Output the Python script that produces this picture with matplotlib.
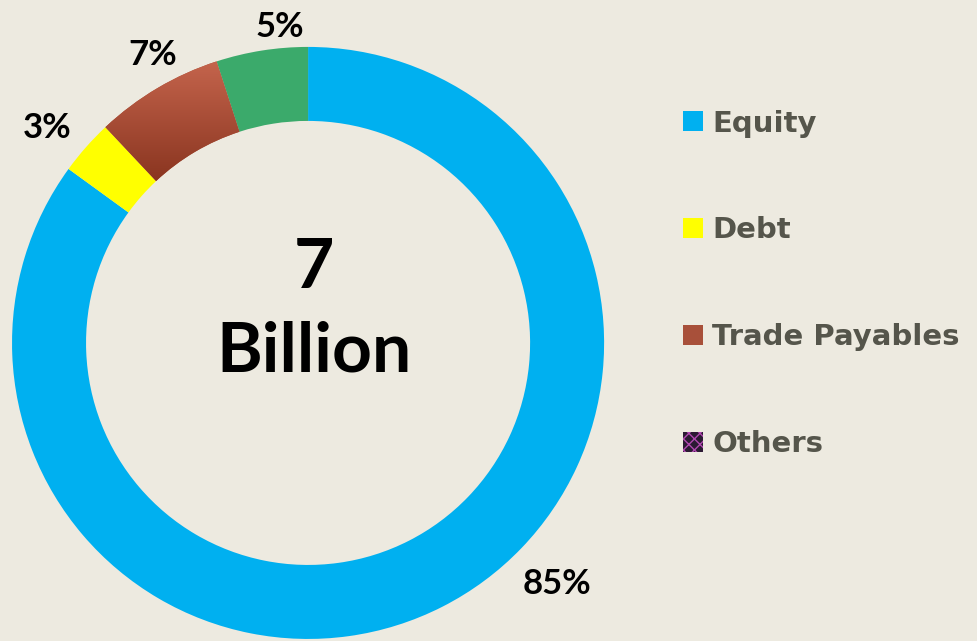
import matplotlib
matplotlib.use("Agg")
import matplotlib.pyplot as plt
import matplotlib.patches as mpatches
from matplotlib.colors import LinearSegmentedColormap
import numpy as np

# data
labels = ["Equity", "Debt", "Trade Payables", "Others"]
shares = [85, 3, 7, 5]
colors = ["#00B0F0", "#FFFF00", "#A8503A", "#3BAA6B"]
center_value = "7"
center_unit = "Billion"

# where Excel parked each percent label: (angle in degrees, radius)
label_spots = [(-44, 1.17), (140.5, 1.14), (118.3, 1.105), (95.1, 1.07)]

plt.rcParams['font.family'] = ['Lato', 'DejaVu Sans']
BG = "#EDEAE0"

fig = plt.figure(figsize=(9.78, 6.41), dpi=100, facecolor=BG)
ax = fig.add_axes([0.0123, 0.0032, 0.6054, 0.9236])
ax.set_facecolor(BG)

wedges, texts, autotexts = ax.pie(
    shares, colors=colors, startangle=90, counterclock=False, radius=1.0,
    wedgeprops=dict(width=0.25, edgecolor='none'),
    autopct='%d%%', pctdistance=1.12,
    textprops=dict(fontsize=25, fontweight='bold', color='black'))

for t, (a, r) in zip(autotexts, label_spots):
    a = np.deg2rad(a)
    t.set_position((r * np.cos(a), r * np.sin(a)))

ax.set_xlim(-1, 1)
ax.set_ylim(-1, 1)
ax.set_aspect('equal')
ax.axis('off')

# the trade payables slice has a vertical brown gradient
tp = wedges[2]
bb = tp.get_path().get_extents()
grad_cmap = LinearSegmentedColormap.from_list("tp", ["#8A3520", "#C4644C"])
img = ax.imshow(np.linspace(0, 1, 64).reshape(-1, 1), cmap=grad_cmap,
                origin='lower', aspect='auto',
                extent=(bb.x0, bb.x1, bb.y0, bb.y1), zorder=tp.get_zorder() + 0.1)
img.set_clip_path(tp)
ax.set_xlim(-1, 1)
ax.set_ylim(-1, 1)

ax.text(0.02, 0.25, center_value, ha='center', va='center',
        fontsize=50, fontweight='bold', color='black')
ax.text(0.02, -0.03, center_unit, ha='center', va='center',
        fontsize=50, fontweight='bold', color='black')

# legend: "Others" uses a patterned swatch in the original
handles = [mpatches.Patch(facecolor=w.get_facecolor()) for w in wedges[:3]]
handles[2] = mpatches.Patch(facecolor="#A8503A")
handles.append(mpatches.Patch(facecolor='#2B1A33', edgecolor='#B048B0',
                              hatch='xxx', linewidth=0))
leg = fig.legend(handles, labels, loc='upper left',
                 bbox_to_anchor=(0.672, 0.87), frameon=False,
                 prop=dict(family='DejaVu Sans', weight='bold', size=21),
                 handlelength=0.68, handleheight=0.68,
                 handletextpad=0.3, labelspacing=2.7)
for t in leg.get_texts():
    t.set_color('#55554B')

fig.savefig("out.png", dpi=100, facecolor=BG)
